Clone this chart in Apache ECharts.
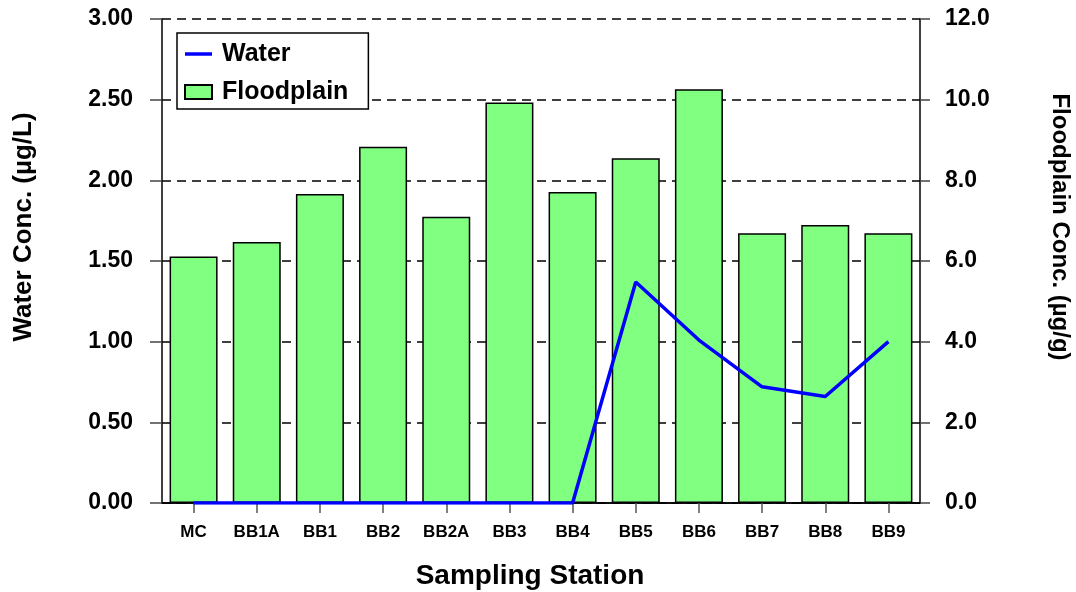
<!DOCTYPE html>
<html>
<head>
<meta charset="utf-8">
<script src="https://cdn.jsdelivr.net/npm/echarts@6/dist/echarts.min.js"></script>
<style>html,body{margin:0;padding:0;background:#fff;overflow:hidden;}#c{width:1076px;height:592px;}</style>
</head>
<body>
<div id="c"></div>
<script>
var categories = ['MC','BB1A','BB1','BB2','BB2A','BB3','BB4','BB5','BB6','BB7','BB8','BB9'];
var waterValues = [0,0,0,0,0,0,0,1.37,1.01,0.72,0.66,1.00];
var floodplainValues = [6.11,6.47,7.66,8.83,7.10,9.93,7.71,8.55,10.26,6.69,6.89,6.69];
var FONT = '"Liberation Sans", Arial, sans-serif';

var chart = echarts.init(document.getElementById('c'), null, {renderer:'canvas'});
chart.setOption({
  backgroundColor:'#fff',
  animation:false,
  grid:{left:162,right:156,top:19,bottom:89,containLabel:false,outerBoundsMode:'none'},
  legend:{
    orient:'vertical', left:177, top:33,
    backgroundColor:'#fff', borderColor:'#000', borderWidth:1.5,
    padding:[6,20,2,7], itemGap:8, itemWidth:27, itemHeight:14,
    symbolKeepAspect:true,
    textStyle:{fontFamily:FONT,fontWeight:'bold',fontSize:25,color:'#000',lineHeight:30,padding:[0,0,0,5]},
    data:[{name:'Water',icon:'path://M0,0 L27,0 L27,3.5 L0,3.5 Z'},{name:'Floodplain',icon:'rect'}]
  },
  xAxis:[{
    type:'category', data:categories, position:'bottom',
    boundaryGap:true,
    axisLine:{show:true,lineStyle:{color:'#000',width:1.5}},
    axisTick:{show:true,alignWithLabel:true,length:10,lineStyle:{color:'#555',width:1.5}},
    axisLabel:{fontFamily:FONT,fontWeight:'bold',fontSize:17,color:'#000',margin:21,interval:0},
    name:'Sampling Station', nameLocation:'middle', nameGap:59,
    nameTextStyle:{fontFamily:FONT,fontWeight:'bold',fontSize:28,color:'#000',padding:[0,22,0,0]}
  },{
    type:'category', data:categories, position:'top',
    axisLine:{show:true,lineStyle:{color:'#000',width:1.5}},
    axisTick:{show:false}, axisLabel:{show:false}
  }],
  yAxis:[{
    type:'value', min:0, max:3, interval:0.5, position:'left',
    axisLine:{show:true,lineStyle:{color:'#000',width:1.5}},
    axisTick:{show:true,length:12,lineStyle:{color:'#444',width:1.5}},
    axisLabel:{fontFamily:FONT,fontWeight:'bold',fontSize:23,color:'#000',margin:29,
      formatter:function(v){return v.toFixed(2);}},
    splitLine:{show:true,lineStyle:{color:'#000',width:1.5,type:[9,6]}},
    name:'Water Conc. (µg/L)', nameLocation:'middle', nameGap:125,
    nameTextStyle:{fontFamily:FONT,fontWeight:'bold',fontSize:26,color:'#000',padding:[0,0,0,68]}
  },{
    type:'value', min:0, max:12, interval:2, position:'right',
    axisLine:{show:true,lineStyle:{color:'#000',width:1.5}},
    axisTick:{show:true,length:10,lineStyle:{color:'#444',width:1.5}},
    axisLabel:{fontFamily:FONT,fontWeight:'bold',fontSize:23,color:'#000',margin:25,
      formatter:function(v){return v.toFixed(1);}},
    splitLine:{show:false},
    name:'Floodplain Conc. (µg/g)', nameLocation:'middle', nameGap:128, nameRotate:-90,
    nameTextStyle:{fontFamily:FONT,fontWeight:'bold',fontSize:24,color:'#000',padding:[0,68,0,0]}
  }],
  series:[{
    name:'Floodplain', type:'bar', xAxisIndex:0, yAxisIndex:1,
    data:floodplainValues, barCategoryGap:'24%',
    itemStyle:{color:'#80ff80',borderColor:'#000',borderWidth:1.5}
  },{
    name:'Water', type:'line', xAxisIndex:0, yAxisIndex:0,
    data:waterValues, symbol:'none', showSymbol:false, z:5,
    lineStyle:{color:'#0000ff',width:3.5}, itemStyle:{color:'#0000ff'}
  }]
});
</script>
</body>
</html>
